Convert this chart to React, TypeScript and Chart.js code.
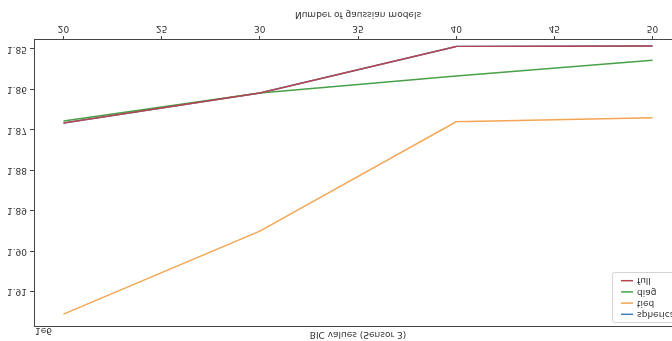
import React, { useEffect, useRef } from "react";
import { Chart, registerables } from "chart.js";

Chart.register(...registerables);

// BIC scores (in units of 1e6) for each covariance type, per number of mixture components
const gaussianCounts = [20, 30, 40, 50];
const sphericalBic = [1.8683, 1.8609, 1.8494, 1.8493];
const tiedBic = [1.9155, 1.895, 1.868, 1.867];
const diagBic = [1.8678, 1.8609, 1.8567, 1.8528];
const fullBic = [1.8683, 1.8609, 1.8494, 1.8493];

const xTickValues = [20, 25, 30, 35, 40, 45, 50];
const yTickValues = [1.85, 1.86, 1.87, 1.88, 1.89, 1.9, 1.91];
const yOffsetLabel = "1e6";
const titleText = "BIC values (Sensor 3)";
const xAxisTitle = "Number of gaussian models";

const seriesLabels = ["spherical", "tied", "diag", "full"];
const seriesValues = [sphericalBic, tiedBic, diagBic, fullBic];
const seriesColors = ["#3f82b8", "#f2a552", "#48a048", "#b84450"];

const FONT_FAMILY = '"DejaVu Sans", sans-serif';
const TEXT_COLOR = "#333";
const AXIS_COLOR = "#444";

const decorations = {
  id: "decorations",
  afterDatasetsDraw(chart: any) {
    const { ctx, chartArea: a } = chart;
    ctx.save();

    // axes frame
    ctx.strokeStyle = AXIS_COLOR;
    ctx.lineWidth = 1;
    const l = Math.round(a.left) + 0.5;
    const t = Math.round(a.top) + 0.5;
    ctx.strokeRect(l, t, Math.round(a.right) - Math.round(a.left), Math.round(a.bottom) - Math.round(a.top));

    // title, axis title, offset text
    ctx.fillStyle = TEXT_COLOR;
    ctx.font = `9px ${FONT_FAMILY}`;
    ctx.textBaseline = "middle";
    ctx.textAlign = "center";
    const cx = (a.left + a.right) / 2;
    ctx.fillText(titleText, cx, a.top - 7);
    ctx.fillText(xAxisTitle, cx, a.bottom + 26);
    ctx.textAlign = "left";
    ctx.fillText(yOffsetLabel, a.left + 1, a.top - 3.5);

    // legend box
    const bx = a.right - 70;
    const by = a.top + 4;
    const bw = 65;
    const bh = 50;
    ctx.beginPath();
    ctx.roundRect(bx + 0.5, by + 0.5, bw, bh, 2);
    ctx.fillStyle = "rgba(255,255,255,0.8)";
    ctx.fill();
    ctx.strokeStyle = "#d4d4d4";
    ctx.stroke();

    seriesLabels.forEach((label, i) => {
      const y = by + 8.7 + i * 11.2;
      ctx.strokeStyle = seriesColors[i];
      ctx.lineWidth = 1.5;
      ctx.beginPath();
      ctx.moveTo(bx + 9, y);
      ctx.lineTo(bx + 21, y);
      ctx.stroke();
      ctx.fillStyle = TEXT_COLOR;
      ctx.fillText(label, bx + 25, y);
    });

    ctx.restore();
  },
};

export default function App() {
  const canvasRef = useRef<HTMLCanvasElement | null>(null);

  useEffect(() => {
    document.body.style.margin = "0";
    const canvas = canvasRef.current;
    if (!canvas) return;

    const tickFont = { family: FONT_FAMILY, size: 9 };
    const gridOpts = {
      drawOnChartArea: false,
      drawTicks: true,
      tickLength: 4,
      color: AXIS_COLOR,
      lineWidth: 1,
    };

    const chart = new Chart(canvas, {
      type: "line",
      data: {
        datasets: seriesLabels.map((label, i) => ({
          label,
          data: gaussianCounts.map((x, j) => ({ x, y: seriesValues[i][j] })),
          borderColor: seriesColors[i],
          backgroundColor: seriesColors[i],
          borderWidth: 1.4,
          pointRadius: 0,
          tension: 0,
          fill: false,
          order: seriesLabels.length - i,
        })),
      },
      options: {
        animation: false,
        responsive: false,
        devicePixelRatio: 1,
        layout: { padding: { left: 0, right: 38, top: 14, bottom: 0 } },
        plugins: {
          legend: { display: false },
          tooltip: { enabled: false },
          title: { display: false },
        },
        scales: {
          x: {
            type: "linear",
            min: 18.5,
            max: 51.5,
            afterBuildTicks: (s: any) => {
              s.ticks = xTickValues.map((v) => ({ value: v }));
            },
            afterFit: (s: any) => {
              s.height = 40;
            },
            grid: gridOpts,
            border: { display: false },
            ticks: {
              font: tickFont,
              color: TEXT_COLOR,
              padding: 2,
              maxRotation: 0,
              autoSkip: false,
              callback: (v: any) => String(v),
            },
          },
          y: {
            type: "linear",
            min: 1.8478,
            max: 1.9187,
            afterBuildTicks: (s: any) => {
              s.ticks = yTickValues.map((v) => ({ value: v }));
            },
            afterFit: (s: any) => {
              s.width = 34;
            },
            grid: gridOpts,
            border: { display: false },
            ticks: {
              font: tickFont,
              color: TEXT_COLOR,
              padding: 3,
              autoSkip: false,
              callback: (v: any) => Number(v).toFixed(2),
            },
          },
        },
      },
      plugins: [decorations],
    });

    return () => chart.destroy();
  }, []);

  return (
    <div style={{ width: 672, height: 341, overflow: "hidden", background: "#fff" }}>
      <canvas
        ref={canvasRef}
        width={720}
        height={341}
        style={{ display: "block", transform: "scaleY(-1)" }}
      />
    </div>
  );
}
